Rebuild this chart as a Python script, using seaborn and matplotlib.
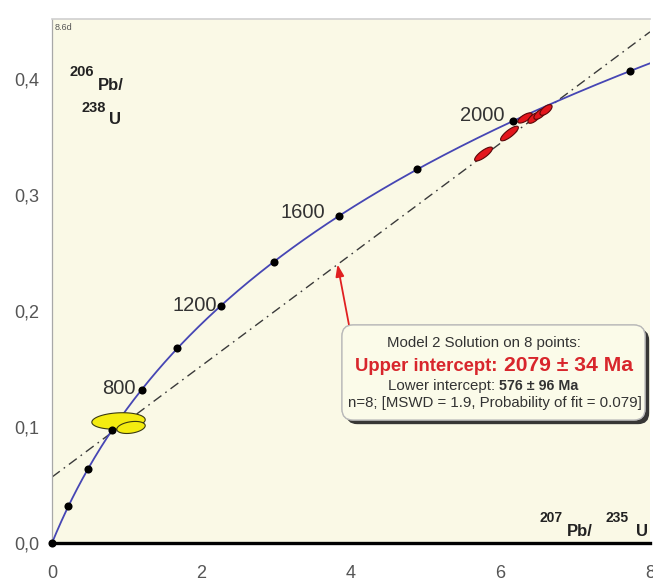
import numpy as np
import pandas as pd
import matplotlib
matplotlib.use("Agg")
import matplotlib.pyplot as plt
import seaborn as sns
from matplotlib.patches import FancyBboxPatch, Polygon
from matplotlib.ticker import MultipleLocator, FuncFormatter
from matplotlib.transforms import IdentityTransform
import matplotlib.patheffects as pe

# U decay constants (1/yr)
LAMBDA_238 = 1.55125e-10
LAMBDA_235 = 9.8485e-10

# concordia age marks (Ma) and the ones that get a label
marker_ages = [0, 200, 400, 600, 800, 1000, 1200, 1400, 1600, 1800, 2000, 2200]
labeled_ages = [800, 1200, 1600, 2000]

# regression result
upper_age, upper_err = 2079, 34
lower_age, lower_err = 576, 96
n_points = 8
mswd = 1.9
prob_fit = 0.079

# analyses: 207Pb/235U, its error, 206Pb/238U, its error, error correlation
spot_r75 = [0.890, 1.057, 5.773, 6.120, 6.328, 6.448, 6.528, 6.609]
spot_s75 = [0.357, 0.190, 0.119, 0.119, 0.097, 0.081, 0.081, 0.081]
spot_r68 = [0.1052, 0.0996, 0.3353, 0.3530, 0.3664, 0.3664, 0.3698, 0.3733]
spot_s68 = [0.0071, 0.0052, 0.0060, 0.0063, 0.0044, 0.0046, 0.0046, 0.0046]
spot_rho = [0.15, 0.30, 0.80, 0.81, 0.70, 0.64, 0.64, 0.64]
spot_group = ["young", "young", "old", "old", "old", "old", "old", "old"]


def r206_238(t_ma):
    return np.expm1(LAMBDA_238 * np.asarray(t_ma, float) * 1e6)


def r207_235(t_ma):
    return np.expm1(LAMBDA_235 * np.asarray(t_ma, float) * 1e6)


W, H = 653, 581
BG = "#faf9e6"
sns.set_style("white")
plt.rcParams["font.family"] = ["Liberation Sans", "DejaVu Sans"]

fig = plt.figure(figsize=(W / 100, H / 100), dpi=100)
ax = fig.add_axes([52 / W, 1 - 543 / H, (650 - 52) / W, (543 - 19) / H])
ax.set_facecolor(BG)
ax.set_xlim(0, 8)
ax.set_ylim(0, 0.4517)

# concordia curve
t_curve = np.linspace(0, 2400, 400)
curve = pd.DataFrame({"r75": r207_235(t_curve), "r68": r206_238(t_curve)})
sns.lineplot(data=curve, x="r75", y="r68", sort=False, color="#4646b4",
             linewidth=1.3, ax=ax, zorder=3)

# discordia through the two intercepts
p_low = (float(r207_235(lower_age)), float(r206_238(lower_age)))
p_up = (float(r207_235(upper_age)), float(r206_238(upper_age)))
ax.axline(p_low, p_up, color="#3a3a3a", linewidth=1.0,
          linestyle=(0, (7, 3.5, 1.2, 3.5)), zorder=2)

# error ellipses
theta = np.linspace(0, 2 * np.pi, 120)
colors = {"young": "#f4ec10", "old": "#e3161c"}
edges = {"young": "#3a3a10", "old": "#5a0808"}
for x, sx, y, sy, rho, g in zip(spot_r75, spot_s75, spot_r68, spot_s68,
                                spot_rho, spot_group):
    ex = x + sx * np.cos(theta)
    ey = y + sy * (rho * np.cos(theta) + np.sqrt(1 - rho ** 2) * np.sin(theta))
    ax.add_patch(Polygon(np.column_stack([ex, ey]), closed=True,
                         facecolor=colors[g], edgecolor=edges[g],
                         linewidth=0.8, zorder=4))

# age marks on the concordia
marks = pd.DataFrame({"age": marker_ages,
                      "r75": r207_235(marker_ages),
                      "r68": r206_238(marker_ages)})
sns.scatterplot(data=marks, x="r75", y="r68", color="black", s=34,
                edgecolor="black", linewidth=0, ax=ax, zorder=5, clip_on=False)

label_offsets = {800: (-4, 1), 1200: (-3, 0), 1600: (-10, 3), 2000: (-6, 4)}
for a in labeled_ages:
    ax.annotate(str(a), (float(r207_235(a)), float(r206_238(a))),
                xytext=label_offsets[a], textcoords="offset points",
                ha="right", va="center", fontsize=14.5, color="#333333",
                zorder=6)

# axes styling
ax.set_xlabel("")
ax.set_ylabel("")
ax.xaxis.set_major_locator(MultipleLocator(2))
ax.xaxis.set_minor_locator(MultipleLocator(1))
ax.yaxis.set_major_locator(MultipleLocator(0.1))
ax.yaxis.set_minor_locator(MultipleLocator(0.05))
ax.xaxis.set_major_formatter(FuncFormatter(lambda v, p: f"{v:.0f}"))
ax.yaxis.set_major_formatter(FuncFormatter(lambda v, p: f"{v:.1f}".replace(".", ",")))
ax.tick_params(axis="both", which="both", direction="in", length=4, width=1.3,
               color="#222222", labelsize=13, labelcolor="#555555")
ax.tick_params(axis="x", which="both", pad=16)
ax.tick_params(axis="y", which="both", pad=9)
ax.spines["right"].set_visible(False)
ax.spines["bottom"].set_color("black")
ax.spines["bottom"].set_linewidth(2.4)
ax.spines["left"].set_color("#a8a8a8")
ax.spines["left"].set_linewidth(0.9)
ax.spines["top"].set_color("#d0d0d0")
ax.spines["top"].set_linewidth(1.2)

ident = IdentityTransform()


def ptext(x, y_top, s, **kw):
    """Place text at pixel position measured from the top-left corner."""
    return fig.text(x, H - y_top, s, transform=ident, **kw)


# isotope ratio axis titles
ratio_kw = dict(fontweight="bold", color="#222222")
ptext(70, 72, "206", fontsize=10.5, va="center", ha="left", **ratio_kw)
ptext(98, 86, "Pb/", fontsize=12, va="center", ha="left", **ratio_kw)
ptext(81, 108, "238", fontsize=10.5, va="center", ha="left", **ratio_kw)
ptext(109, 120, "U", fontsize=12, va="center", ha="left", **ratio_kw)

ptext(539, 518, "207", fontsize=10, va="center", ha="left", **ratio_kw)
ptext(567, 531, "Pb/", fontsize=12, va="center", ha="left", **ratio_kw)
ptext(606, 518, "235", fontsize=10, va="center", ha="left", **ratio_kw)
ptext(636, 531, "U", fontsize=12, va="center", ha="left", **ratio_kw)

ptext(55, 27, "8.6d", fontsize=6.5, va="center", ha="left", color="#555555")

# result box
box = FancyBboxPatch((342, H - 420), 303, 95,
                     boxstyle="round,pad=0,rounding_size=11",
                     transform=ident, facecolor="#fbfbe9", edgecolor="#b8b8b8",
                     linewidth=0.9, zorder=10,
                     path_effects=[pe.withSimplePatchShadow(offset=(3, -3),
                                                            shadow_rgbFace="#222222",
                                                            alpha=0.9),
                                   pe.Normal()])
fig.add_artist(box)

# arrow from the box to the discordia
x_tip = 3.82
y_tip = p_low[1] + (p_up[1] - p_low[1]) / (p_up[0] - p_low[0]) * (x_tip - p_low[0])
ax.annotate("", xy=(x_tip, y_tip), xytext=(349, H - 325),
            textcoords="figure pixels",
            arrowprops=dict(arrowstyle="-|>,head_length=0.7,head_width=0.25",
                            color="#e02020", linewidth=1.3,
                            shrinkA=0, shrinkB=0), zorder=9)

box_text = "#333333"
red = "#d8262c"


def rich_line(cx, baseline_top, pieces, gap=5):
    texts = []
    for s, kw in pieces:
        texts.append(fig.text(0, 0, s, transform=ident, ha="left",
                              va="baseline", zorder=11, **kw))
    renderer = fig.canvas.get_renderer()
    widths = [t.get_window_extent(renderer).width for t in texts]
    total = sum(widths) + gap * (len(texts) - 1)
    x = cx - total / 2
    for t, w in zip(texts, widths):
        t.set_position((x, H - baseline_top))
        x += w + gap


rich_line(484, 347, [("Model 2 Solution on 8 points:",
                      dict(fontsize=10.8, color=box_text))])
rich_line(494, 371, [("Upper intercept:", dict(fontsize=13.3, fontweight="bold", color=red)),
                     (f"{upper_age} \u00b1 {upper_err} Ma",
                      dict(fontsize=15.2, fontweight="bold", color=red))], gap=6)
rich_line(483, 390, [("Lower intercept:", dict(fontsize=10.8, color=box_text)),
                     (f"{lower_age} \u00b1 {lower_err} Ma",
                      dict(fontsize=10.3, fontweight="bold", color=box_text))], gap=4)
rich_line(495, 407, [(f"n={n_points}; [MSWD = {mswd}, Probability of fit = {prob_fit}]",
                      dict(fontsize=10.8, color=box_text))])

fig.savefig("out.png", dpi=100, facecolor="white")
